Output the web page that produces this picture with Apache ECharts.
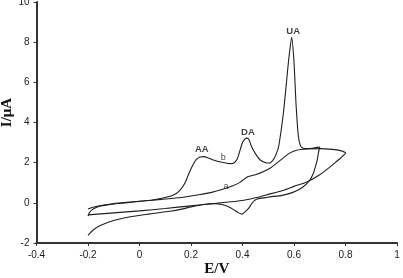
<!DOCTYPE html>
<html>
<head>
<meta charset="utf-8">
<script src="https://cdn.jsdelivr.net/npm/echarts@6/dist/echarts.min.js"></script>
<style>
  html, body { margin: 0; padding: 0; background: #fff; }
  #chart { width: 403px; height: 278px; }
</style>
</head>
<body>
<div id="chart"></div>
<script>
// curve b : forward (anodic) sweep -0.2 -> 0.7 V
var bFwdE = [-0.2, -0.195, -0.185, -0.17, -0.15, -0.12, -0.08, -0.03, 0.02, 0.06, 0.1, 0.13, 0.155, 0.175, 0.19, 0.2, 0.21, 0.22, 0.235, 0.25, 0.27, 0.29, 0.31, 0.33, 0.35, 0.365, 0.38, 0.39, 0.4, 0.41, 0.418, 0.425, 0.435, 0.45, 0.47, 0.49, 0.505, 0.52, 0.53, 0.54, 0.55, 0.56, 0.57, 0.58, 0.591, 0.6, 0.608, 0.617, 0.625, 0.635, 0.65, 0.67, 0.69, 0.7];
var bFwdI = [-0.66, -0.5, -0.35, -0.24, -0.16, -0.09, -0.03, 0.03, 0.1, 0.17, 0.27, 0.38, 0.6, 0.95, 1.4, 1.7, 1.95, 2.15, 2.28, 2.3, 2.22, 2.12, 2.05, 2.0, 1.95, 1.97, 2.2, 2.6, 3.0, 3.18, 3.22, 3.15, 2.8, 2.45, 2.12, 2.0, 1.98, 2.15, 2.4, 2.78, 3.6, 4.6, 5.9, 7.2, 8.24, 7.0, 4.9, 3.3, 2.85, 2.72, 2.7, 2.72, 2.76, 2.78];
// curve b : reverse sweep 0.7 -> -0.2 V
var bRevE = [0.7, 0.695, 0.69, 0.682, 0.675, 0.66, 0.636, 0.61, 0.584, 0.55, 0.52, 0.49, 0.46, 0.445, 0.435, 0.425, 0.41, 0.398, 0.385, 0.37, 0.35, 0.32, 0.29, 0.25, 0.2, 0.168, 0.118, 0.041, -0.03, -0.1, -0.15, -0.18, -0.2];
var bRevI = [2.78, 2.5, 2.12, 1.75, 1.46, 1.1, 0.8, 0.6, 0.47, 0.36, 0.32, 0.26, 0.2, 0.1, -0.05, -0.25, -0.45, -0.56, -0.5, -0.38, -0.22, -0.08, -0.04, -0.08, -0.2, -0.3, -0.42, -0.55, -0.68, -0.88, -1.12, -1.35, -1.62];
// curve a : forward sweep -0.2 -> 0.8 V
var aFwdE = [-0.2, -0.18, -0.15, -0.1, -0.05, 0.0, 0.05, 0.1, 0.17, 0.23, 0.28, 0.32, 0.36, 0.39, 0.42, 0.45, 0.48, 0.51, 0.55, 0.58, 0.61, 0.65, 0.7, 0.75, 0.78, 0.8];
var aFwdI = [-0.31, -0.22, -0.13, -0.03, 0.03, 0.08, 0.13, 0.19, 0.28, 0.4, 0.52, 0.66, 0.84, 1.02, 1.3, 1.4, 1.55, 1.75, 2.15, 2.45, 2.62, 2.68, 2.7, 2.66, 2.6, 2.48];
// curve a : reverse sweep 0.8 -> -0.2 V
var aRevE = [0.8, 0.78, 0.76, 0.74, 0.7, 0.65, 0.6, 0.56, 0.5, 0.45, 0.4, 0.3, 0.2, 0.1, 0.0, -0.1, -0.15, -0.2];
var aRevI = [2.48, 2.22, 2.0, 1.79, 1.4, 1.04, 0.82, 0.63, 0.42, 0.25, 0.12, -0.02, -0.15, -0.28, -0.4, -0.5, -0.55, -0.6];

// peak / curve annotations [E, I, text, bold]
var notes = [
  [0.242, 2.65, 'AA', true],
  [0.421, 3.52, 'DA', true],
  [0.597, 8.55, 'UA', true],
  [0.325, 2.28, 'b', false],
  [0.336, 0.8, 'a', false]
];

function zip(xs, ys) {
  var out = [];
  for (var i = 0; i < xs.length; i++) out.push([xs[i], ys[i]]);
  return out;
}

var curveB = zip(bFwdE, bFwdI).concat(zip(bRevE, bRevI));
var curveA = zip(aFwdE, aFwdI).concat(zip(aRevE, aRevI));

var myChart = echarts.init(document.getElementById('chart'));
var lineStyle = { color: '#1e1e1e', width: 1.1 };
var option = {
  animation: false,
  grid: { left: 36.5, right: 6, top: 2, bottom: 35, containLabel: false, outerBoundsMode: 'none' },
  xAxis: {
    type: 'value',
    min: -0.4,
    max: 1,
    interval: 0.2,
    name: 'E/V',
    nameLocation: 'middle',
    nameGap: 19,
    nameMoveOverlap: false,
    nameTextStyle: { fontFamily: 'Liberation Serif', fontWeight: 'bold', fontSize: 15, color: '#111' },
    axisLine: { onZero: false, lineStyle: { color: '#333', width: 2 } },
    axisTick: { length: 3, lineStyle: { color: '#333' } },
    axisLabel: { fontFamily: 'Liberation Sans', fontSize: 10, color: '#222', margin: 7 },
    splitLine: { show: false }
  },
  yAxis: {
    type: 'value',
    min: -2,
    max: 10,
    interval: 2,
    name: 'I/μA',
    nameLocation: 'middle',
    nameGap: 22,
    nameMoveOverlap: false,
    nameTextStyle: { fontFamily: 'Liberation Serif', fontWeight: 'bold', fontSize: 15, color: '#111', padding: [0, 0, 0, 20] },
    axisLine: { onZero: false, lineStyle: { color: '#333', width: 2 } },
    axisTick: { length: 3, lineStyle: { color: '#333' } },
    axisLabel: { fontFamily: 'Liberation Sans', fontSize: 10, color: '#222', margin: 7 },
    splitLine: { show: false }
  },
  series: [
    {
      name: 'b',
      type: 'line',
      data: curveB,
      showSymbol: false,
      smooth: 0.2,
      lineStyle: lineStyle
    },
    {
      name: 'a',
      type: 'line',
      data: curveA,
      showSymbol: false,
      smooth: 0.2,
      lineStyle: lineStyle
    },
    {
      name: 'notes',
      type: 'scatter',
      symbolSize: 0,
      data: notes.map(function (n) {
        return {
          value: [n[0], n[1]],
          name: n[2],
          label: { fontWeight: n[3] ? 'bold' : 'normal', fontSize: n[3] ? 9.5 : 9 }
        };
      }),
      label: {
        show: true,
        position: 'inside',
        formatter: function (p) { return p.name; },
        fontFamily: 'Liberation Sans',
        color: '#111'
      }
    }
  ]
};
option && myChart.setOption(option);
</script>
</body>
</html>
